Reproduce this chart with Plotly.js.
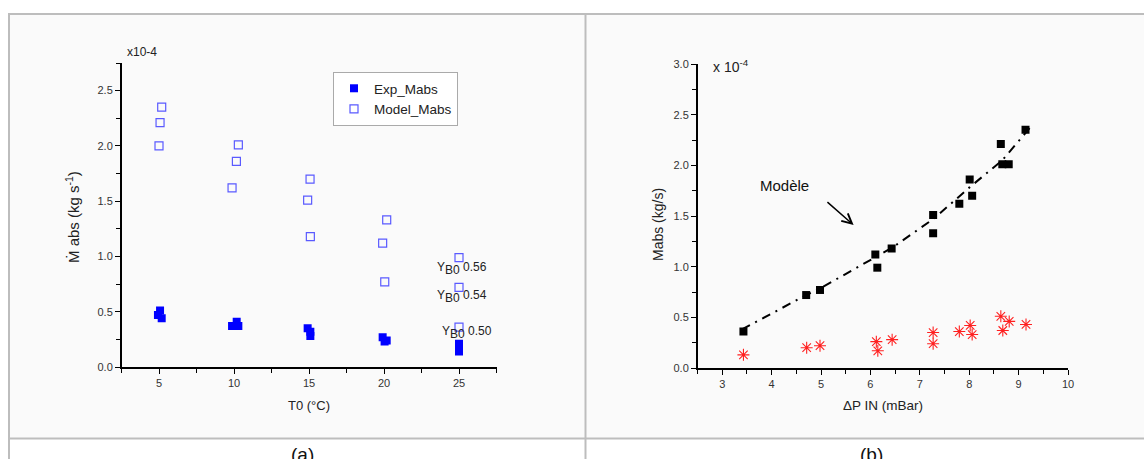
<!DOCTYPE html>
<html>
<head>
<meta charset="utf-8">
<script src="https://cdn.plot.ly/plotly-3.0.1.min.js"></script>
<style>
html,body{margin:0;padding:0;background:#fff;}
#chart{width:1144px;height:459px;}
</style>
</head>
<body>
<div id="chart"></div>
<script>
// ---------- Panel (a) data: T0 (°C) vs Mabs (x1e-4 kg/s) ----------
const expA_x   = [4.93, 5.07, 5.18, 9.87, 10.18, 10.29, 14.91, 15.09, 15.09, 19.91, 20.04, 20.18, 25.0, 25.0, 25.0, 25.0];
const expA_y   = [0.47, 0.51, 0.44, 0.37, 0.41, 0.37, 0.35, 0.32, 0.28, 0.27, 0.23, 0.24, 0.21, 0.18, 0.15, 0.14];
const modelA_x = [5.0, 5.07, 5.18, 9.87, 10.16, 10.29, 14.91, 15.07, 15.09, 19.91, 20.05, 20.18, 25.0, 25.0, 25.0];
const modelA_y = [2.00, 2.21, 2.35, 1.62, 1.86, 2.01, 1.51, 1.70, 1.18, 1.12, 0.77, 1.33, 0.99, 0.72, 0.36];
const ybLabels = ["0.56", "0.54", "0.50"];
const ybLabelY = [0.89, 0.635, 0.315];
const ybLabelX = [23.38, 23.38, 23.7];

// ---------- Panel (b) data: ΔP IN (mBar) vs Mabs (x1e-4 kg/s) ----------
const sqB_x  = [3.43, 4.70, 4.98, 6.10, 6.14, 6.43, 7.27, 7.27, 7.80, 8.01, 8.06, 8.64, 8.67, 8.80, 9.14];
const sqB_y  = [0.36, 0.72, 0.77, 1.12, 0.99, 1.18, 1.51, 1.33, 1.62, 1.86, 1.70, 2.21, 2.01, 2.01, 2.35];
const stB_x  = [3.43, 4.71, 4.98, 6.12, 6.15, 6.44, 7.27, 7.27, 7.80, 8.02, 8.06, 8.64, 8.68, 8.81, 9.15];
const stB_y  = [0.13, 0.20, 0.22, 0.26, 0.17, 0.28, 0.35, 0.24, 0.36, 0.42, 0.33, 0.51, 0.37, 0.46, 0.43];
const modelB_x = [3.4, 4.7, 5.0, 6.1, 6.45, 7.3, 8.0, 8.67, 9.28];
const modelB_y = [0.38, 0.72, 0.79, 1.09, 1.19, 1.48, 1.78, 2.05, 2.40];

const W = 1144, H = 459;
const px = v => v / W;
const py = v => 1 - v / H;

const FONT = "Liberation Sans, Arial, sans-serif";
const tickFont = {family: FONT, size: 11, color: "#333"};

const traces = [
  {x: expA_x, y: expA_y, xaxis: "x", yaxis: "y", type: "scatter", mode: "markers", name: "Exp_Mabs",
   marker: {symbol: "square", size: 8, color: "#0000ff", line: {width: 0}}},
  {x: modelA_x, y: modelA_y, xaxis: "x", yaxis: "y", type: "scatter", mode: "markers", name: "Model_Mabs",
   marker: {symbol: "square-open", size: 8, color: "#5a5aff", line: {width: 1.2}}},
  {x: modelB_x, y: modelB_y, xaxis: "x2", yaxis: "y2", type: "scatter", mode: "lines", showlegend: false,
   line: {color: "#000", width: 2, dash: "9px,6px,2px,6px"}},
  {x: sqB_x, y: sqB_y, xaxis: "x2", yaxis: "y2", type: "scatter", mode: "markers", showlegend: false,
   marker: {symbol: "square", size: 8, color: "#000"}},
  {x: stB_x, y: stB_y, xaxis: "x2", yaxis: "y2", type: "scatter", mode: "markers", showlegend: false,
   marker: {symbol: "asterisk-open", size: 10, color: "#ff2020", line: {width: 1.1, color: "#ff2020"}}}
];

const axBase = {
  showgrid: false, zeroline: false, showline: true, linecolor: "#000", linewidth: 1.5,
  ticks: "outside", ticklen: 5, tickwidth: 1, tickcolor: "#000", tickfont: tickFont,
  mirror: false, fixedrange: true
};

const annotations = [
  {xref: "paper", yref: "paper", x: px(125), y: py(52), xanchor: "left", yanchor: "middle",
   text: "x10-4", showarrow: false, font: {family: FONT, size: 12, color: "#222"}},
  {xref: "paper", yref: "paper", x: px(72), y: py(217), textangle: -90, xanchor: "center", yanchor: "middle",
   text: "Ṁ abs (kg s<sup>-1</sup>)", showarrow: false, font: {family: FONT, size: 15, color: "#222"}},
  {xref: "paper", yref: "paper", x: px(309), y: py(405), xanchor: "center", yanchor: "middle",
   text: "T0 (°C)", showarrow: false, font: {family: FONT, size: 13, color: "#222"}},
  {xref: "paper", yref: "paper", x: px(711), y: py(66), xanchor: "left", yanchor: "middle",
   text: "x 10<sup>-4</sup>", showarrow: false, font: {family: FONT, size: 14, color: "#222"}},
  {xref: "paper", yref: "paper", x: px(658), y: py(225), textangle: -90, xanchor: "center", yanchor: "middle",
   text: "Mabs (kg/s)", showarrow: false, font: {family: FONT, size: 14, color: "#222"}},
  {xref: "paper", yref: "paper", x: px(883), y: py(405), xanchor: "center", yanchor: "middle",
   text: "ΔP IN (mBar)", showarrow: false, font: {family: FONT, size: 13.5, color: "#222"}},
  {xref: "x2", yref: "y2", x: 5.66, y: 1.41, ax: 5.1, ay: 1.65, axref: "x2", ayref: "y2",
   showarrow: true, arrowhead: 5, arrowsize: 1.3, arrowwidth: 1.5, arrowcolor: "#000", text: ""},
  {xref: "paper", yref: "paper", x: px(784), y: py(185), xanchor: "center", yanchor: "middle",
   text: "Modèle", showarrow: false, font: {family: FONT, size: 15, color: "#111"}},
  {xref: "paper", yref: "paper", x: px(302), y: py(454), xanchor: "center", yanchor: "middle",
   text: "(a)", showarrow: false, font: {family: FONT, size: 19, color: "#111"}},
  {xref: "paper", yref: "paper", x: px(872), y: py(454), xanchor: "center", yanchor: "middle",
   text: "(b)", showarrow: false, font: {family: FONT, size: 19, color: "#111"}}
];
ybLabels.forEach((t, i) => {
  annotations.push({xref: "x", yref: "y", x: ybLabelX[i], y: ybLabelY[i], xanchor: "left", yanchor: "middle",
    text: "Y<sub><span style=\"font-size:12px\">B0</span></sub> " + t, showarrow: false,
    font: {family: FONT, size: 12, color: "#222"}});
});

const lineCol = "#bdbdbd";
const shapes = [
  {type: "rect", xref: "paper", yref: "paper", x0: px(9), x1: px(585), y0: py(438), y1: py(15), fillcolor: "#fafafa", line: {width: 0}, layer: "below"},
  {type: "rect", xref: "paper", yref: "paper", x0: px(586), x1: 1, y0: py(438), y1: py(15), fillcolor: "#fafafa", line: {width: 0}, layer: "below"},
  {type: "line", xref: "paper", yref: "paper", x0: px(8), x1: 1, y0: py(14), y1: py(14), line: {color: lineCol, width: 2}},
  {type: "line", xref: "paper", yref: "paper", x0: px(8), x1: 1, y0: py(438.5), y1: py(438.5), line: {color: lineCol, width: 2}},
  {type: "line", xref: "paper", yref: "paper", x0: px(9), x1: px(9), y0: py(13), y1: 0, line: {color: lineCol, width: 2}},
  {type: "line", xref: "paper", yref: "paper", x0: px(585.5), x1: px(585.5), y0: py(13), y1: 0, line: {color: lineCol, width: 2}}
];

const layout = {
  width: W, height: H,
  margin: {l: 0, r: 0, t: 0, b: 0},
  paper_bgcolor: "#ffffff", plot_bgcolor: "rgba(0,0,0,0)",
  font: {family: FONT},
  showlegend: true,
  legend: {x: px(333), y: py(72), xanchor: "left", yanchor: "top", bgcolor: "#ffffff",
           bordercolor: "#aaaaaa", borderwidth: 1, font: {family: FONT, size: 13.5, color: "#222"},
           tracegroupgap: 0},
  xaxis: Object.assign({}, axBase, {domain: [px(121.5), px(496.5)], range: [2.5, 27.5], tickvals: [5, 10, 15, 20, 25],
    minor: {tickvals: [2.5, 7.5, 12.5, 17.5, 22.5, 27.5], ticklen: 4, tickcolor: "#000", ticks: "outside"}, anchor: "y"}),
  yaxis: Object.assign({}, axBase, {domain: [py(367), py(63)], range: [0, 2.75], dtick: 0.5, tickformat: ".1f",
    minor: {dtick: 0.25, ticklen: 4, tickcolor: "#000", ticks: "outside"}, anchor: "x"}),
  xaxis2: Object.assign({}, axBase, {domain: [px(697.5), px(1068)], range: [2.5, 10], dtick: 1,
    minor: {dtick: 0.5, ticklen: 4, tickcolor: "#000", ticks: "outside"}, anchor: "y2"}),
  yaxis2: Object.assign({}, axBase, {domain: [py(368), py(64)], range: [0, 3], dtick: 0.5, tickformat: ".1f",
    minor: {dtick: 0.25, ticklen: 4, tickcolor: "#000", ticks: "outside"}, anchor: "x2"}),
  annotations: annotations,
  shapes: shapes
};

Plotly.newPlot("chart", traces, layout, {displayModeBar: false, staticPlot: true});
</script>
</body>
</html>
